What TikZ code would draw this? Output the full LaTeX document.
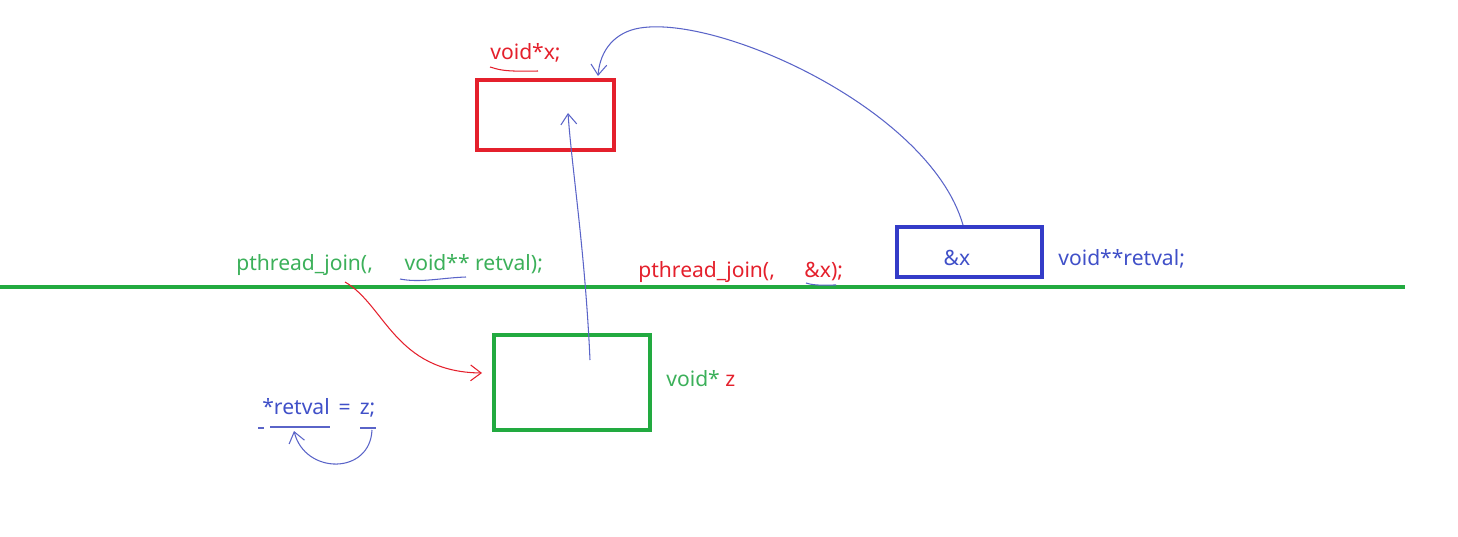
\documentclass[tikz,border=0pt]{standalone}
\usepackage{fontspec}
\setmainfont{Noto Sans}
\usetikzlibrary{arrows.meta,calc}
\definecolor{lgreen}{RGB}{34,170,64}
\definecolor{tgreen}{RGB}{60,176,90}
\definecolor{lred}{RGB}{228,32,44}
\definecolor{bbox}{RGB}{52,60,200}
\definecolor{tblue}{RGB}{64,80,200}
\definecolor{pen}{RGB}{90,100,200}
\tikzset{
  box/.style={draw,line width=2.2pt,minimum width=#1,inner sep=0pt},
  lbl/.style={anchor=base west,inner sep=0pt,font=\fontsize{12}{14}\selectfont},
  penline/.style={draw=pen,line width=0.6pt},
  penarrow/.style={penline,-{Straight Barb[length=6pt,width=9pt]}},
}
\begin{document}
\begin{tikzpicture}[x=0.02cm,y=-0.02cm]
\useasboundingbox (0,0) rectangle (1458,537);
% divider line
\coordinate (L0) at (0,287);
\coordinate (L1) at (1405,287);
\draw[lgreen,line width=2.4pt] (L0) -- (L1);
% boxes
\node[box=2.74cm,draw=lred,minimum height=1.4cm] (xbox) at (545.5,115) {};
\node[box=2.9cm,draw=bbox,minimum height=1.0cm] (abox) at (969.5,252) {};
\node[box=3.12cm,draw=lgreen,minimum height=1.9cm] (zbox) at (572,382.5) {};
% labels
\node[lbl,text=tblue,anchor=base] (ax) at (957,265) {\&x};
\node[lbl,text=lred] (vx) at (490,60) {void*x;};
\node[lbl,text=tgreen] (pj1) at (236,270) {pthread\_join(,\hspace{1.5em}void** retval);};
\node[lbl,text=lred] (pj2) at (638,277) {pthread\_join(,\hspace{1.4em}\&x);};
\node[lbl,text=tblue] (vr) at (1058,265) {void**retval;};
\node[lbl] (vz) at (666,386) {\textcolor{tgreen}{void*} \textcolor{lred}{z}};
\node[lbl,text=tblue] (rz) at (262,414) {*retval\, =\, z;};
% underlines
\draw[lred,line width=0.6pt] (490,67) .. controls (498,69) and (500,72) .. (538,71);
\draw[penline] (400,279) .. controls (420,283) and (440,278) .. (466,277);
\draw[penline] (806,283) .. controls (815,286) and (826,285) .. (836,285);
\draw[penline] (258,428) -- (264,428);
\draw[penline] (270,427) -- (330,427);
\draw[penline] (360,428) -- (376,428);
% arrows
\coordinate (zin) at (590,360);
\coordinate (xin) at (568,113);
\draw[penarrow] (zin) .. controls (585,250) and (572,170) .. (xin);
\coordinate (atop) at (963,225);
\coordinate (xtop) at (598,76);
\draw[penarrow] (atop) .. controls (930,110) and (720,15) .. (640,28) .. controls (615,32) and (600,50) .. (xtop);
\coordinate (pjs) at (345,282);
\coordinate (zleft) at (482,373);
\draw[draw=lred,line width=0.6pt,-{Straight Barb[length=6pt,width=9pt]}] (pjs) .. controls (385,305) and (395,372) .. (zleft);
\coordinate (c0) at (372,430);
\coordinate (c1) at (294,431);
\draw[penarrow] (c0) .. controls (370,475) and (305,475) .. (c1);
\end{tikzpicture}
\end{document}
